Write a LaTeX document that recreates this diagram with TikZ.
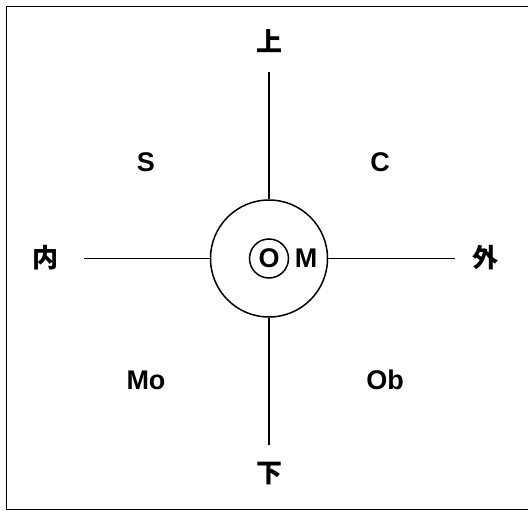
\documentclass[tikz,border=0pt]{standalone}
\usepackage{fontspec}
\setmainfont{Liberation Sans}
\newfontfamily\cjk{Noto Sans CJK JP}
\usetikzlibrary{positioning}
\tikzset{
  lab/.style={font=\fontsize{27}{29}\selectfont\bfseries,inner sep=0pt},
  jlab/.style={font=\fontsize{26}{28}\selectfont\cjk\bfseries,inner sep=0pt},
  ring/.style={draw,circle,inner sep=0pt,line width=1.5pt}
}
\begin{document}
\begin{tikzpicture}[x=1pt,y=-1pt,line width=1.5pt]
  \useasboundingbox (0,0) rectangle (528,511);
  \draw (6.5,6.5) rectangle (545,509.5);
  % centre
  \coordinate(c)at(269,258.5);
  \node[ring,minimum size=117pt] (rim) at (c) {};
  \node[ring,minimum size=39pt] (core) at (c) {};
  \node[lab] (o) at (c) {O};
  \node[lab] (m) at (306,258) {M};
  % axis ends
  \coordinate(n0)at(269,72);\coordinate(n1)at(455,258.5);
  \coordinate(n2)at(269,445);\coordinate(n3)at(84,258.5);
  \draw (rim.north)--(n0) (rim.east)--(n1) (rim.south)--(n2) (rim.west)--(n3);
  % directions
  \node[jlab] (up) at (269,41) {上};   \node[jlab] (out) at (485,258) {外};
  \node[jlab] (down) at (269,474) {下}; \node[jlab] (in) at (45,258) {内};
  % quadrants
  \node[lab] (s) at (146,162) {S};   \node[lab] (cc) at (380,162) {C};
  \node[lab] (mo) at (146,380) {Mo}; \node[lab] (ob) at (385,380) {Ob};
\end{tikzpicture}
\end{document}
